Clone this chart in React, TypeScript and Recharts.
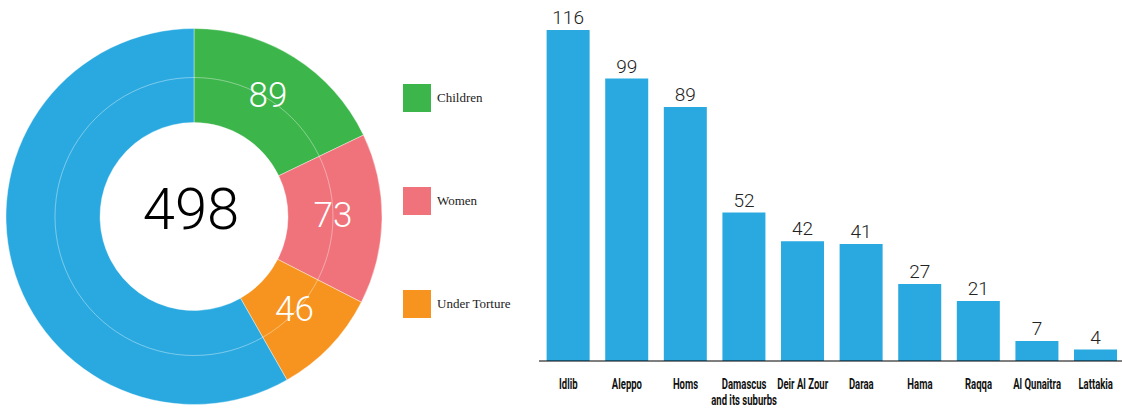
import React from "react";
import { PieChart, Pie, Cell, BarChart, Bar, XAxis, YAxis, LabelList } from "recharts";

const total = 498;
const pieNames = ["Children", "Women", "Under Torture", "Other"];
const pieValues = [89, 73, 46, 290];
const pieColors = ["#3CB54A", "#F0727A", "#F7941F", "#29A9E0"];

const cities = ["Idlib", "Aleppo", "Homs", "Damascus\nand its suburbs", "Deir Al Zour", "Daraa", "Hama", "Raqqa", "Al Qunaitra", "Lattakia"];
const cityValues = [116, 99, 89, 52, 42, 41, 27, 21, 7, 4];

const pieData = pieNames.map((n, i) => ({ name: n, value: pieValues[i] }));
const barData = cities.map((c, i) => ({ name: c, value: cityValues[i] }));

const RAD = Math.PI / 180;
const CX = 194;
const CY = 216.5;

const renderPieLabel = (p: any) => {
  if (p.index === 3) return null;
  const r = 139;
  const a = p.midAngle * RAD;
  const x = p.cx + r * Math.cos(a);
  const y = p.cy - r * Math.sin(a);
  return (
    <text x={x} y={y - 3} fill="#fff" textAnchor="middle" dominantBaseline="central"
      style={{ fontFamily: "Roboto, 'Noto Sans', sans-serif", fontWeight: 300, fontSize: 35 }}>
      {p.value}
    </text>
  );
};

const Tick = (props: any) => {
  const { x, y, payload } = props;
  const lines = String(payload.value).split("\n");
  const s = 0.68;
  return (
    <g transform={`translate(${x},0) scale(${s},1)`}>
      <text x={0} y={y} textAnchor="middle" fill="#111"
        style={{ fontFamily: "Roboto, 'Noto Sans', sans-serif", fontWeight: 700, fontSize: 14 }}>
        {lines.map((l, i) => (
          <tspan key={i} x={0} y={389 + i * 16}>{l}</tspan>
        ))}
      </text>
    </g>
  );
};

export default function App() {
  return (
    <div style={{ position: "relative", width: 1122, height: 409, overflow: "hidden", background: "#fff" }}>
      <style>{`body{margin:0}`}</style>
      <div style={{ position: "absolute", left: 0, top: 0 }}>
        <PieChart width={400} height={409} margin={{ top: 0, right: 0, bottom: 0, left: 0 }}>
          <Pie data={pieData} dataKey="value" cx={CX} cy={CY} innerRadius={94} outerRadius={188}
            startAngle={90} endAngle={-270} stroke="#ffffff" strokeWidth={0.4}
            isAnimationActive={false} label={renderPieLabel} labelLine={false}>
            {pieData.map((d, i) => (
              <Cell key={i} fill={pieColors[i]} />
            ))}
          </Pie>
          <Pie data={[{ name: "ring", value: 1 }]} dataKey="value" cx={CX} cy={CY} innerRadius={139} outerRadius={139}
            startAngle={90} endAngle={-270} fill="none" stroke="rgba(255,255,255,0.3)" strokeWidth={0.7}
            isAnimationActive={false} />
          <text x={191} y={209} textAnchor="middle" dominantBaseline="central" fill="#000"
            style={{ fontFamily: "Roboto, 'Noto Sans', sans-serif", fontWeight: 300, fontSize: 58 }}>
            {total}
          </text>
        </PieChart>
      </div>
      {pieNames.slice(0, 3).map((n, i) => (
        <div key={n} style={{ position: "absolute", left: 403, top: 84 + i * 103, height: 28, display: "flex", alignItems: "center" }}>
          <div style={{ width: 28, height: 28, background: pieColors[i] }} />
          <span style={{ marginLeft: 6, fontFamily: "'Liberation Serif', serif", fontSize: 13, color: "#222" }}>{n}</span>
        </div>
      ))}
      <div style={{ position: "absolute", left: 530, top: 0 }}>
        <BarChart width={600} height={409} data={barData} margin={{ top: 30, right: 5, bottom: 0, left: 9 }}
          barCategoryGap="13%">
          <XAxis dataKey="name" height={48} interval={0} tickLine={false} axisLine={{ stroke: "#000", strokeWidth: 1.2 }} tick={<Tick />} />
          <YAxis hide domain={[0, 116]} />
          <Bar dataKey="value" fill="#29A9E0" isAnimationActive={false}>
            <LabelList dataKey="value" position="top" offset={6} fill="#222"
              style={{ fontFamily: "Roboto, 'Noto Sans', sans-serif", fontWeight: 300, fontSize: 19 }} />
          </Bar>
        </BarChart>
      </div>
    </div>
  );
}
